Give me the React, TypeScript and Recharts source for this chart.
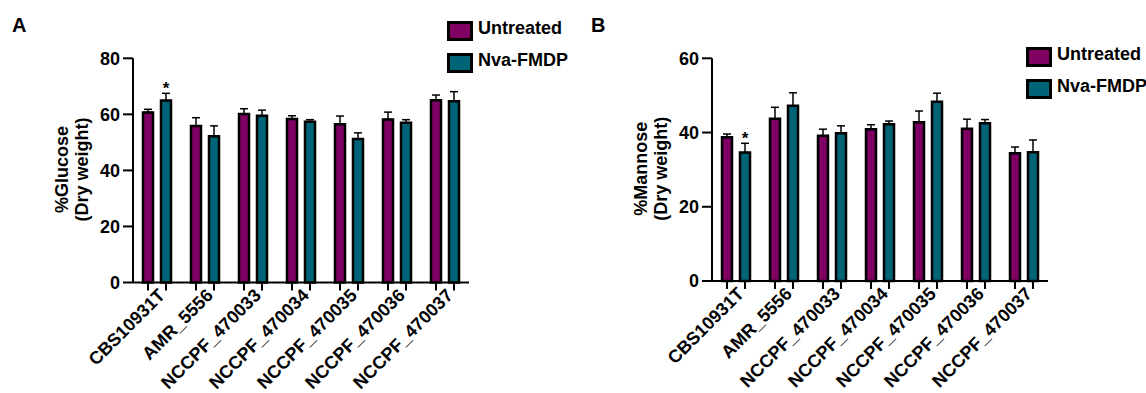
import { BarChart, Bar, XAxis, YAxis, ErrorBar, Legend, LabelList } from "recharts";

const strains = [
  "CBS10931T",
  "AMR_5556",
  "NCCPF_470033",
  "NCCPF_470034",
  "NCCPF_470035",
  "NCCPF_470036",
  "NCCPF_470037",
];

const seriesNames = ["Untreated", "Nva-FMDP"];

const glucoseUntreated = [60.7, 55.8, 60.1, 58.3, 56.5, 58.2, 65.0];
const glucoseUntreatedErr = [1.1, 3.0, 1.9, 1.2, 2.9, 2.6, 1.9];
const glucoseTreated = [64.9, 52.2, 59.5, 57.4, 51.2, 57.0, 64.7];
const glucoseTreatedErr = [2.6, 3.7, 2.0, 0.7, 2.2, 1.1, 3.4];
const glucoseSig = ["*", "", "", "", "", "", ""];

const mannoseUntreated = [38.7, 43.7, 39.1, 40.9, 42.8, 41.0, 34.4];
const mannoseUntreatedErr = [0.9, 3.1, 1.8, 1.2, 3.0, 2.6, 1.7];
const mannoseTreated = [34.6, 47.2, 39.8, 42.2, 48.3, 42.5, 34.7];
const mannoseTreatedErr = [2.5, 3.5, 2.0, 0.9, 2.3, 1.0, 3.3];
const mannoseSig = ["*", "", "", "", "", "", ""];

const glucoseTicks = [0, 20, 40, 60, 80];
const mannoseTicks = [0, 20, 40, 60];

const PURPLE = "#7d0062";
const TEAL = "#006479";
const FONT = "'Liberation Sans', Arial, Helvetica, sans-serif";

const buildRows = (u: number[], ue: number[], t: number[], te: number[], sig: string[]) =>
  strains.map((s, i) => ({
    strain: s,
    untreated: u[i],
    treated: t[i],
    untreatedErr: [0, ue[i]],
    treatedErr: [0, te[i]],
    sig: sig[i],
  }));

const glucoseRows = buildRows(glucoseUntreated, glucoseUntreatedErr, glucoseTreated, glucoseTreatedErr, glucoseSig);
const mannoseRows = buildRows(mannoseUntreated, mannoseUntreatedErr, mannoseTreated, mannoseTreatedErr, mannoseSig);

const StrainTick = (props: any) => {
  const { x, y, payload } = props;
  const tx = x + 9;
  const ty = y + 14;
  return (
    <g>
      <line x1={x - 9} x2={x - 9} y1={y} y2={y + 8} stroke="#000" strokeWidth={2} />
      <line x1={x + 9} x2={x + 9} y1={y} y2={y + 8} stroke="#000" strokeWidth={2} />
      <text
        x={tx}
        y={ty}
        textAnchor="end"
        transform={`rotate(-45, ${tx}, ${ty})`}
        fontSize={18}
        fontWeight="bold"
        fontFamily={FONT}
        fill="#000"
      >
        {payload.value}
      </text>
    </g>
  );
};

const LegendBox = (props: any) => {
  const items = [...props.payload].sort(
    (a: any, b: any) => seriesNames.indexOf(a.value) - seriesNames.indexOf(b.value)
  );
  return (
    <div style={{ fontFamily: FONT }}>
      {items.map((p: any) => (
        <div key={p.value} style={{ display: "flex", alignItems: "flex-start", height: 20, marginBottom: 12 }}>
          <span
            style={{
              width: 20,
              height: 14,
              border: "3px solid #000",
              background: p.color,
              display: "inline-block",
            }}
          />
          <span
            style={{
              marginLeft: 5,
              fontSize: 18,
              fontWeight: "bold",
              lineHeight: "20px",
              position: "relative",
              top: -3,
              color: "#000",
              whiteSpace: "nowrap",
            }}
          >
            {p.value}
          </span>
        </div>
      ))}
    </div>
  );
};

const Panel = ({
  rows,
  left,
  ticks,
  titleLine1,
  legendTop,
  bottom,
}: {
  rows: any[];
  left: number;
  ticks: number[];
  titleLine1: string;
  legendTop: number;
  bottom: number;
}) => {
  const maxTick = ticks[ticks.length - 1];
  const starLabel = (p: any) => {
    const { x, y, width, height, value, index } = p;
    if (!value) return null;
    const ppu = height / rows[index].treated;
    const errTop = y - rows[index].treatedErr[1] * ppu;
    return (
      <text
        x={x + width / 2}
        y={errTop + 1}
        textAnchor="middle"
        fontSize={17}
        fontWeight="bold"
        fontFamily={FONT}
        fill="#000"
      >
        {value}
      </text>
    );
  };
  const yTitle = (p: any) => {
    const vb = p.viewBox;
    const cy = vb.y + vb.height / 2 - 1;
    return (
      <text
        transform={`translate(${vb.x + 68}, ${cy}) rotate(-90)`}
        textAnchor="middle"
        fontSize={18}
        fontWeight="bold"
        fontFamily={FONT}
        fill="#000"
      >
        <tspan x={0} y={0}>
          {titleLine1}
        </tspan>
        <tspan x={0} y={20}>
          (Dry weight)
        </tspan>
      </text>
    );
  };
  return (
    <div style={{ position: "absolute", left, top: 0 }}>
      <BarChart
        width={480}
        height={393}
        data={rows}
        margin={{ top: 58.3, right: 11, bottom: 393 - bottom - 80, left: 0 }}
        barSize={10}
        barGap={8}
      >
        <XAxis
          dataKey="strain"
          height={80}
          tickSize={0}
          tickMargin={0}
          tickLine={false}
          axisLine={{ stroke: "#000", strokeWidth: 2 }}
          tick={<StrainTick />}
          interval={0}
        />
        <YAxis
          width={133}
          domain={[0, maxTick]}
          ticks={ticks}
          tickSize={10}
          tickMargin={3}
          tickLine={{ stroke: "#000", strokeWidth: 2 }}
          axisLine={{ stroke: "#000", strokeWidth: 2 }}
          tick={{ fill: "#000", fontSize: 18, fontWeight: "bold", fontFamily: FONT }}
          label={{ content: yTitle }}
        />
        <Legend
          layout="vertical"
          align="center"
          verticalAlign="middle"
          content={<LegendBox />}
          wrapperStyle={{ left: 447, top: legendTop, width: "auto", height: "auto" }}
        />
        <Bar
          dataKey="untreated"
          name={seriesNames[0]}
          fill={PURPLE}
          stroke="#000"
          strokeWidth={2.5}
          isAnimationActive={false}
        >
          <ErrorBar dataKey="untreatedErr" width={4} stroke="#000" strokeWidth={1.5} direction="y" />
        </Bar>
        <Bar
          dataKey="treated"
          name={seriesNames[1]}
          fill={TEAL}
          stroke="#000"
          strokeWidth={2.5}
          isAnimationActive={false}
        >
          <ErrorBar dataKey="treatedErr" width={4} stroke="#000" strokeWidth={1.5} direction="y" />
          <LabelList dataKey="sig" content={starLabel} />
        </Bar>
      </BarChart>
    </div>
  );
};

const letterStyle: any = {
  position: "absolute",
  top: 15,
  fontFamily: FONT,
  fontWeight: "bold",
  fontSize: 20,
  lineHeight: "20px",
  color: "#000",
};

export default function App() {
  return (
    <div style={{ position: "absolute", left: 0, top: 0, width: 1146, height: 393, background: "#fff" }}>
      <div style={{ ...letterStyle, left: 12 }}>A</div>
      <div style={{ ...letterStyle, left: 591 }}>B</div>
      <Panel rows={glucoseRows} left={0} ticks={glucoseTicks} titleLine1="%Glucose" legendTop={21} bottom={282.5} />
      <Panel rows={mannoseRows} left={579} ticks={mannoseTicks} titleLine1="%Mannose" legendTop={47} bottom={281} />
    </div>
  );
}
